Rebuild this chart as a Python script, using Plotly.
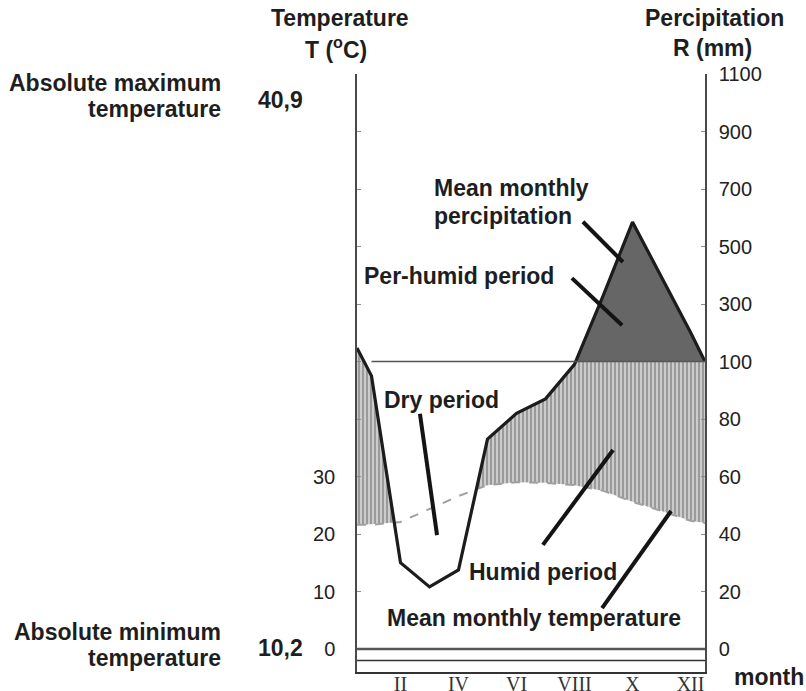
import numpy as np
import plotly.graph_objects as go

# ---------------- data ----------------
roman_labels = ["II", "IV", "VI", "VIII", "X", "XII"]
roman_pos = [1.5, 3.5, 5.5, 7.5, 9.5, 11.5]

# x positions in months (0 = start of January, 12 = end of December)
x_months = [0.0, 0.5, 1.5, 2.5, 3.5, 4.5, 5.5, 6.5, 7.5, 8.5, 9.5, 10.5, 11.5, 12.0]
temp_c = [21.6, 21.6, 22.1, 24.3, 26.6, 28.5, 29.0, 28.9, 28.5, 27.5, 25.6, 24.0, 22.3, 21.9]
precip_mm = [147, 95, 30, 21.6, 27.5, 73, 82, 87, 99, 332, 585, 396, 202, 100]

temp_ticks = [0, 10, 20, 30]
precip_ticks = [0, 20, 40, 60, 80, 100, 300, 500, 700, 900, 1100]
abs_max_label = "40,9"
abs_min_label = "10,2"
line100_start = 0.5

FONT = "Liberation Sans, Arial, Helvetica, sans-serif"
SERIF = "Liberation Serif, Times New Roman, serif"


def r_to_u(r):
    """Walter-Lieth scale: 20 mm = 10 C up to 100 mm, then 200 mm = 10 C."""
    r = np.asarray(r, dtype=float)
    return np.where(r <= 100, r / 2.0, 50 + (r - 100) / 20.0)


x = np.array(x_months)
t = np.array(temp_c)
p = r_to_u(precip_mm)


def crossings(xs, a, b):
    out = []
    d = a - b
    for i in range(len(xs) - 1):
        if d[i] * d[i + 1] < 0:
            f = d[i] / (d[i] - d[i + 1])
            out.append(xs[i] + f * (xs[i + 1] - xs[i]))
    return out


xs_all = np.unique(np.concatenate([x, crossings(x, p, t), crossings(x, p, np.full_like(p, 50.0)), [line100_start]]))
p_all = np.interp(xs_all, x, p)
t_all = np.interp(xs_all, x, t)
cap = np.where(xs_all >= line100_start, np.minimum(p_all, 50.0), p_all)


def segments(mask):
    segs, cur = [], []
    for i, m in enumerate(mask):
        if m:
            cur.append(i)
        else:
            if len(cur) > 1:
                segs.append(cur)
            cur = []
    if len(cur) > 1:
        segs.append(cur)
    return segs


fig = go.Figure()

# humid period (hatched)
wet = cap >= t_all - 1e-9
for seg in segments(wet):
    xx = list(xs_all[seg]) + list(xs_all[seg][::-1])
    yy = list(cap[seg]) + list(t_all[seg][::-1])
    fig.add_trace(go.Scatter(
        x=xx, y=yy, mode="lines", fill="toself", line=dict(width=0),
        fillcolor="#cccccc",
        fillpattern=dict(shape="|", size=4, solidity=0.4, fgcolor="#505050", bgcolor="#cccccc"),
        hoverinfo="skip"))

# per-humid period (dark)
ph = (p_all >= 50 - 1e-9) & (xs_all >= line100_start)
for seg in segments(ph):
    xx = list(xs_all[seg]) + list(xs_all[seg][::-1])
    yy = list(p_all[seg]) + [50.0] * len(seg)
    fig.add_trace(go.Scatter(
        x=xx, y=yy, mode="lines", fill="toself", line=dict(width=0),
        fillcolor="#666666", hoverinfo="skip"))

# temperature (dashed)
fig.add_trace(go.Scatter(x=x, y=t, mode="lines",
                         line=dict(color="#a0a0a0", width=2, dash="dash"), hoverinfo="skip"))

# precipitation (thick line), on the right axis (same scale)
fig.add_trace(go.Scatter(x=x, y=p, mode="lines", yaxis="y2",
                         line=dict(color="#1c1c1c", width=3.2), hoverinfo="skip"))

shapes = []
# 100 mm line
shapes.append(dict(type="line", xref="x", yref="y", x0=line100_start, x1=12, y0=50, y1=50,
                   line=dict(color="#555555", width=1.5)))
# base lines
shapes.append(dict(type="line", xref="x", yref="y", x0=0, x1=12, y0=0, y1=0,
                   line=dict(color="#555555", width=2.5)))
shapes.append(dict(type="line", xref="x", yref="y", x0=0, x1=12, y0=-2, y1=-2,
                   line=dict(color="#333333", width=1.5)))


def leader(x0, y0, x1, y1):
    shapes.append(dict(type="line", xref="x", yref="y", x0=x0, y0=y0, x1=x1, y1=y1,
                       line=dict(color="#141414", width=4)))


leader(7.79, 74.3, 9.17, 67.3)   # mean monthly precipitation
leader(7.41, 64.5, 9.14, 56.3)   # per-humid period
leader(2.17, 40.9, 2.76, 19.8)   # dry period
leader(6.41, 18.1, 8.83, 34.6)   # humid period
leader(8.45, 7.1, 10.83, 24.0)   # mean monthly temperature

W, H = 806, 691


def px(v):
    return v / W


def py(v):
    return 1 - v / H


ann = []
LBL = 23


def txt(text, xpx, ypx, xanchor="center", size=LBL, bold=True, family=FONT):
    ann.append(dict(text=("<b>%s</b>" % text) if bold else text, x=px(xpx), y=py(ypx),
                    xref="paper", yref="paper", xanchor=xanchor, yanchor="middle",
                    showarrow=False,
                    font=dict(family=family, size=size, color="#1e1e1e")))


txt("Temperature", 340, 18)
txt("T (<sup>o</sup>C)", 336, 48)
txt("Percipitation", 714, 18)
txt("R (mm)", 712, 48)
txt("Absolute maximum", 223, 83, xanchor="right")
txt("temperature", 223, 109, xanchor="right")
txt(abs_max_label, 280, 100)
txt("Absolute minimum", 223, 632, xanchor="right")
txt("temperature", 223, 658, xanchor="right")
txt(abs_min_label, 280, 648)
txt("Mean monthly", 432, 188, xanchor="left")
txt("percipitation", 432, 216, xanchor="left")
txt("Per-humid period", 362, 276, xanchor="left")
txt("Dry period", 382, 400, xanchor="left")
txt("Humid period", 467, 572, xanchor="left")
txt("Mean monthly temperature", 385, 618, xanchor="left")
txt("month", 732, 677, xanchor="left")

y_dom = [(H - 672) / H, (H - 74) / H]
axis_common = dict(range=[-4, 100], domain=y_dom, showline=True, linecolor="#4a4a4a",
                   linewidth=1.5, showgrid=False, zeroline=False, ticks="inside", ticklen=4,
                   tickcolor="#8a8a8a", automargin=False,
                   tickfont=dict(family=FONT, size=20, color="#222222"))

fig.update_layout(
    width=W, height=H, margin=dict(l=0, r=0, t=0, b=0, pad=0), autosize=False,
    paper_bgcolor="white", plot_bgcolor="white", showlegend=False,
    xaxis=dict(domain=[357 / W, 705 / W], range=[0, 12], showline=True, linecolor="#333333",
               linewidth=1.5, showgrid=False, zeroline=False, ticks="", automargin=False,
               tickvals=roman_pos, ticktext=roman_labels, ticklabelstandoff=-7,
               tickfont=dict(family=SERIF, size=20, color="#333333")),
    yaxis=dict(**axis_common,
               tickvals=list(range(0, 101, 10)),
               ticktext=[str(v) if v in temp_ticks else "" for v in range(0, 101, 10)],
               ticklabelstandoff=16),
    yaxis2=dict(**axis_common, overlaying="y", side="right", anchor="x",
                tickvals=list(r_to_u(precip_ticks)),
                ticktext=[str(v) for v in precip_ticks],
                ticklabelstandoff=8),
    shapes=shapes, annotations=ann,
)

fig.write_html("out.html", config={"displayModeBar": False},
               post_script="document.body.style.margin='0';document.body.style.overflow='hidden';")
